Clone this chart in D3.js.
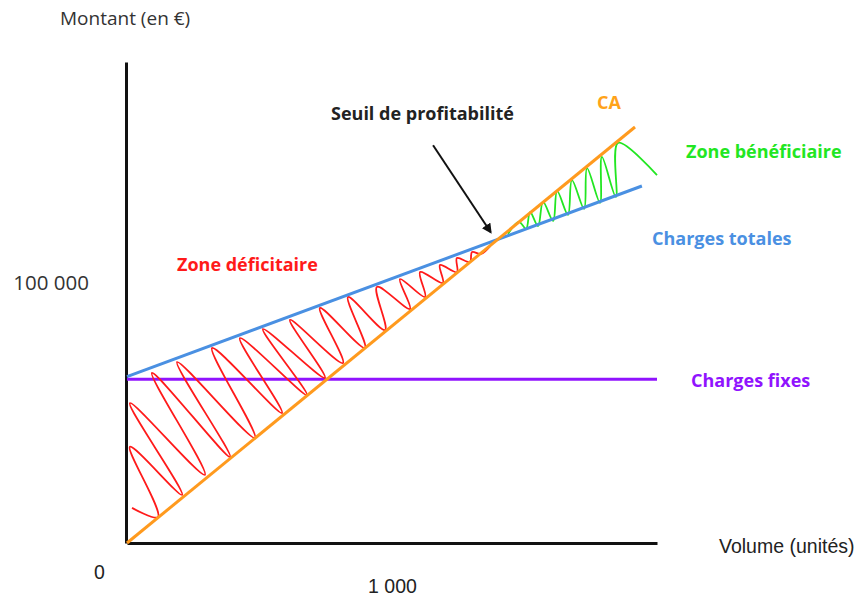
<html>
<head>
<style>
  body { margin: 0; background: #fff; }
  .lbl { font-family: "Open Sans", sans-serif; font-weight: bold; font-size: 18px; }
  .axisTxt { font-family: "Liberation Sans", Arial, sans-serif; font-size: 19.5px; fill: #222; }
  .yTxt { font-family: "Open Sans", sans-serif; font-size: 19px; fill: #333; }
</style>
<script src="https://cdnjs.cloudflare.com/ajax/libs/d3/7.8.5/d3.min.js"></script>
</head>
<body>
<script>
// volumes (unités) and amounts (€)
var caVolume = [0, 1917];
var caMontant = [0, 160000];

var totalVolume = [0, 1943];
var totalMontant = [64000, 137300];

var fixesVolume = [0, 2000];
var fixesMontant = [63000, 63000];

// hand drawn hatching of the loss zone
var perteVolume = [19, 117, 11, 208, 11, 294, 94, 389, 189, 483, 321, 585, 426, 679, 513, 747, 615, 815,
                   728, 898, 834, 974, 943, 1068, 1030, 1125, 1106, 1192, 1181, 1245, 1245, 1294, 1302, 1336, 1370];
var perteMontant = [13500, 10000, 37000, 18500, 53800, 26200, 65400, 33100, 69600, 40400, 75000, 50000,
                    78800, 56900, 82300, 63500, 85800, 69200, 90400, 75000, 94600, 81900, 98500, 90000,
                    101500, 94600, 104200, 100000, 106900, 104200, 109600, 108100, 111900, 111200, 114200];

// hatching of the profit zone
var gainVolume = [1438, 1479, 1506, 1521, 1551, 1570, 1608, 1623, 1664, 1679, 1725, 1736, 1785, 1792, 1845, 1853, 2000];
var gainMontant = [118900, 123500, 120800, 127300, 121900, 131200, 123900, 135400, 126200, 139600,
                   128500, 144200, 130800, 148500, 133100, 153900, 141500];

var xTicks = [1000];
var xTickLabels = ["1 000"];
var yTicks = [100000];
var yTickLabels = ["100 000"];

var width = 858, height = 600;

var svg = d3.select("body").append("svg")
    .attr("width", width)
    .attr("height", height);

var x = d3.scaleLinear().domain([0, 2000]).range([127, 657]);
var y = d3.scaleLinear().domain([0, 185000]).range([543, 62]);

function pts(vols, vals) {
    return vols.map((v, i) => [v, vals[i]]);
}

var line = d3.line().x(d => x(d[0])).y(d => y(d[1]));
var wiggle = d3.line().x(d => x(d[0])).y(d => y(d[1])).curve(d3.curveCatmullRom.alpha(0.5));

// axes
var xAxis = svg.append("g")
    .attr("transform", "translate(0," + y(0) + ")")
    .call(d3.axisBottom(x).tickValues(xTicks).tickSize(0).tickSizeOuter(0)
        .tickPadding(36).tickFormat((d, i) => xTickLabels[i]));
var yAxis = svg.append("g")
    .attr("transform", "translate(" + (x(0) - 1) + ",0)")
    .call(d3.axisLeft(y).tickValues(yTicks).tickSize(0).tickSizeOuter(0)
        .tickPadding(37).tickFormat((d, i) => yTickLabels[i]));

[xAxis, yAxis].forEach(a => {
    a.select(".domain").attr("stroke", "#111").attr("stroke-width", 3);
    a.selectAll("text").attr("font-family", null).attr("font-size", null).attr("fill", null);
});
xAxis.selectAll("text").attr("class", "axisTxt");
yAxis.selectAll("text").attr("class", "yTxt").style("font-size", "20.5px");

svg.append("text").attr("class", "axisTxt")
    .attr("x", 94).attr("y", 579).text("0");
svg.append("text").attr("class", "axisTxt")
    .attr("x", 719).attr("y", 553).text("Volume (unités)");
svg.append("text").attr("class", "yTxt")
    .attr("x", 60).attr("y", 25)
    .text("Montant (en €)");

// lines
svg.append("path").datum(pts(fixesVolume, fixesMontant))
    .attr("d", line).attr("fill", "none").attr("stroke", "#9013fe").attr("stroke-width", 3);

svg.append("path").datum(pts(perteVolume, perteMontant))
    .attr("d", wiggle).attr("fill", "none").attr("stroke", "#ff1a1a").attr("stroke-width", 1.8);

svg.append("path").datum(pts(gainVolume, gainMontant))
    .attr("d", wiggle).attr("fill", "none").attr("stroke", "#22e622").attr("stroke-width", 1.8);

svg.append("path").datum(pts(totalVolume, totalMontant))
    .attr("d", line).attr("fill", "none").attr("stroke", "#4a90e2").attr("stroke-width", 3);

svg.append("path").datum(pts(caVolume, caMontant))
    .attr("d", line).attr("fill", "none").attr("stroke", "#ff9a1e").attr("stroke-width", 3);

// arrow to the break-even point
svg.append("defs").append("marker")
    .attr("id", "head").attr("viewBox", "0 0 10 10")
    .attr("refX", 8).attr("refY", 5)
    .attr("markerWidth", 5).attr("markerHeight", 5)
    .attr("orient", "auto")
    .append("path").attr("d", "M0,0 L10,5 L0,10 z").attr("fill", "#111");

svg.append("line")
    .attr("x1", x(1155)).attr("y1", y(153000))
    .attr("x2", x(1372)).attr("y2", y(119600))
    .attr("stroke", "#111").attr("stroke-width", 2)
    .attr("marker-end", "url(#head)");

// labels
var labels = [
    { t: "Seuil de profitabilité", x: 331, y: 120, c: "#222" },
    { t: "CA", x: 597, y: 109, c: "#ffa31a" },
    { t: "Zone bénéficiaire", x: 686, y: 158, c: "#22e622" },
    { t: "Charges totales", x: 652, y: 245, c: "#4a90e2" },
    { t: "Zone déficitaire", x: 177, y: 271, c: "#ff1a1a" },
    { t: "Charges fixes", x: 691, y: 387, c: "#9013fe" }
];
svg.selectAll(".lbl").data(labels).enter().append("text")
    .attr("class", "lbl")
    .attr("x", d => d.x).attr("y", d => d.y)
    .attr("fill", d => d.c)
    .text(d => d.t);
</script>
</body>
</html>
